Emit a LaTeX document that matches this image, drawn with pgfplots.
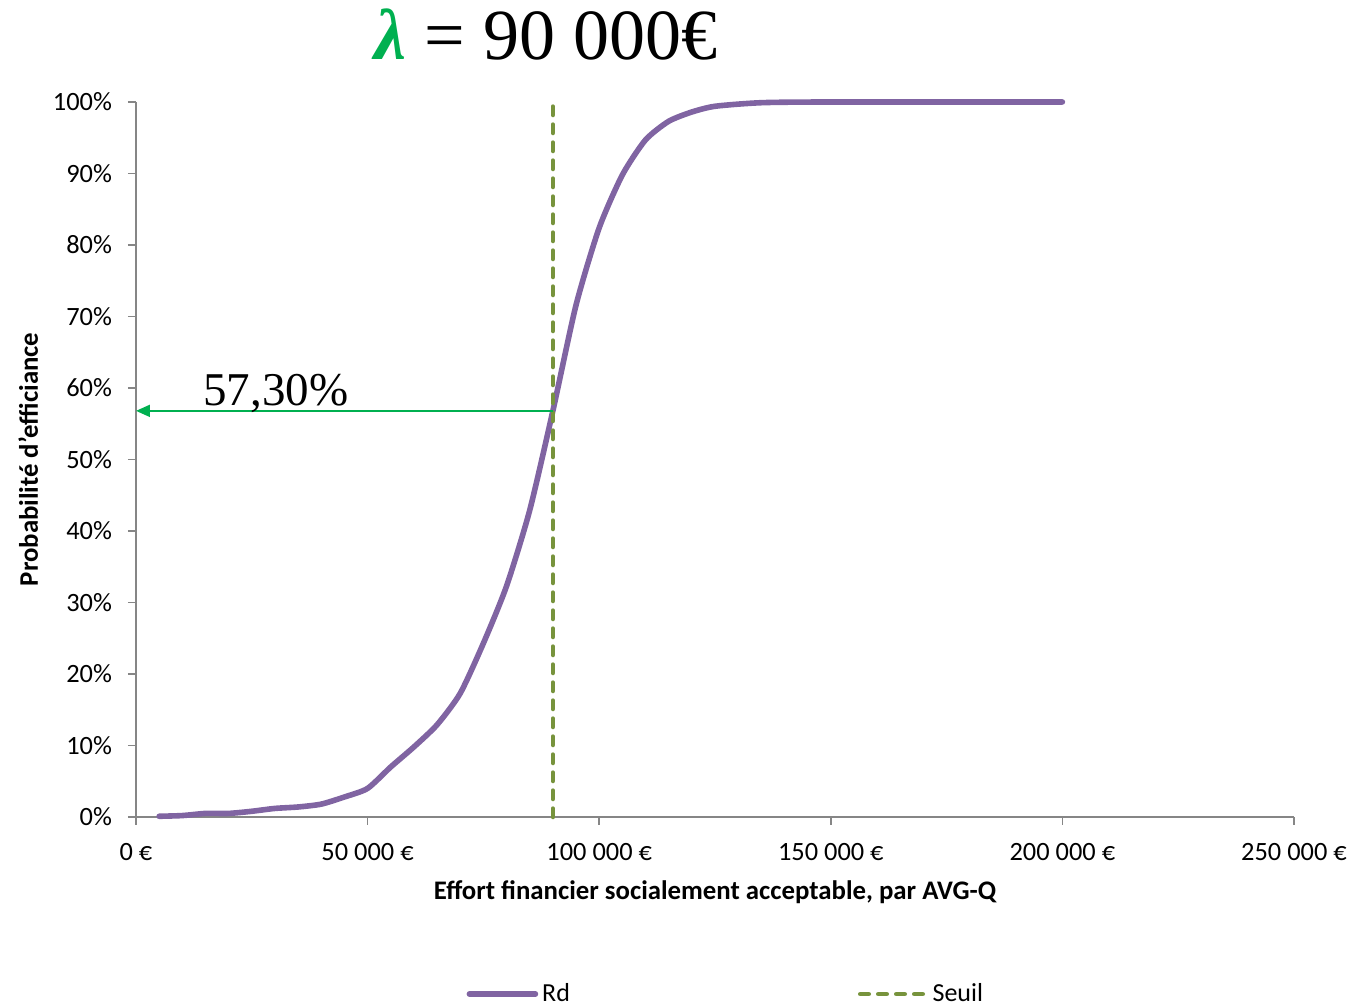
\documentclass[border=0pt]{standalone}
\usepackage{pgfplots}
\pgfplotsset{compat=1.18}
\usepackage{fontspec}
\setmainfont{Carlito}
\newfontfamily\seriffont{Liberation Serif}
\usetikzlibrary{arrows.meta}
\definecolor{rdpurple}{HTML}{8064A2}
\definecolor{seuil}{HTML}{77933C}
\definecolor{arrowgreen}{HTML}{00B050}
\definecolor{axisgray}{HTML}{868686}

\begin{document}
\begin{tikzpicture}
\useasboundingbox (-68pt,-93.5pt) rectangle (617pt,408.5pt);
\begin{axis}[
  at={(0pt,0pt)}, anchor=south west,
  scale only axis, width=579pt, height=357.5pt,
  xmin=0, xmax=250000, ymin=0, ymax=100,
  clip=false,
  axis lines*=left,
  axis line style={axisgray, line width=0.8pt},
  tick style={axisgray, line width=0.8pt},
  tick align=outside, major tick length=4pt,
  scaled ticks=false,
  xtick={0,50000,100000,150000,200000,250000},
  xticklabels={0 €,50 000 €,100 000 €,150 000 €,200 000 €,250 000 €},
  ytick={0,10,20,30,40,50,60,70,80,90,100},
  yticklabels={0\%,10\%,20\%,30\%,40\%,50\%,60\%,70\%,80\%,90\%,100\%},
  ticklabel style={font=\fontsize{13.2}{15}\selectfont, text=black},
  xticklabel style={yshift=-5.5pt},
  yticklabel style={xshift=-4.5pt},
  xlabel={Effort financier socialement acceptable, par AVG-Q},
  ylabel={Probabilité d'efficiance},
  label style={font=\bfseries\fontsize{13.4}{16}\selectfont},
  xlabel style={at={(axis description cs:0.5,-0.105)}, anchor=center},
  ylabel style={at={(axis description cs:-0.093,0.5)}, anchor=center},
  legend style={at={(axis description cs:0.28,-0.2476)}, anchor=west, draw=none,
    legend columns=2, font=\fontsize{13}{15}\selectfont,
    /tikz/every even column/.append style={column sep=142pt}},
  legend image code/.code={\draw[#1] (0pt,0pt) -- (33pt,0pt);},
]
\addplot[rdpurple, line width=2.8pt, smooth, tension=0.4, line cap=round] coordinates {
(5000,0.1) (10000,0.2) (15000,0.5) (20000,0.5) (25000,0.8) (30000,1.2) (35000,1.4)
(40000,1.8) (45000,2.8) (50000,4.0) (55000,7.0) (60000,9.8) (65000,12.9)
(70000,17.3) (75000,24.3) (80000,32.3) (85000,42.9) (90000,56.8) (95000,71.6)
(100000,82.4) (105000,89.8) (110000,94.7) (115000,97.3) (120000,98.6)
(125000,99.4) (135000,99.9) (150000,100) (200000,100)
};
\addlegendentry{Rd}
\addplot[seuil, line width=2.3pt, dash pattern=on 4.2pt off 4.8pt, line cap=round] coordinates {(90000,0) (90000,100)};
\addlegendentry{Seuil}
\addplot[arrowgreen, line width=1pt, -{Triangle[length=7pt,width=6pt]}, forget plot] coordinates {(90000,56.8) (0,56.8)};
\node[font=\seriffont\fontsize{23.5}{28}\selectfont] at (axis cs:30200,59.2) {57,30\%};
\end{axis}
\node[font=\seriffont\fontsize{36}{42}\selectfont] at (205pt,391pt) {\textcolor{arrowgreen}{\bfseries\itshape λ}\hspace{0.25em}=\hspace{0.25em}90 000€};
\end{tikzpicture}
\end{document}
